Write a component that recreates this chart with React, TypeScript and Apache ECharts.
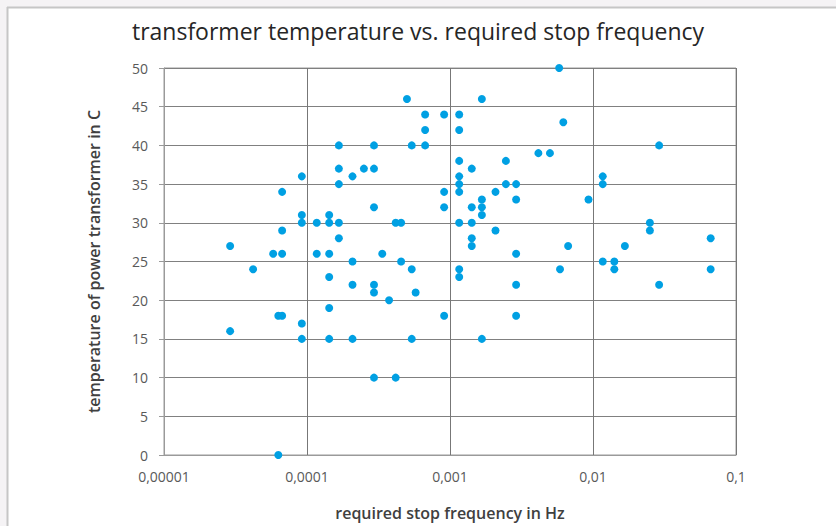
import React, { useEffect, useRef } from "react";
import * as echarts from "echarts";

const titleText = "transformer temperature vs. required stop frequency";
const xAxisName = "required stop frequency in Hz";
const yAxisName = "temperature of power transformer in C";

// stop frequency in Hz (x) and transformer temperature in C (y)
const frequency = [
  2.9e-5, 2.9e-5,
  4.2e-5,
  5.8e-5,
  6.3e-5, 6.3e-5,
  6.7e-5, 6.7e-5, 6.7e-5, 6.7e-5,
  9.2e-5, 9.2e-5, 9.2e-5, 9.2e-5, 9.2e-5,
  1.17e-4, 1.17e-4,
  1.43e-4, 1.43e-4, 1.43e-4, 1.43e-4, 1.43e-4, 1.43e-4,
  1.67e-4, 1.67e-4, 1.67e-4, 1.67e-4, 1.67e-4,
  2.08e-4, 2.08e-4, 2.08e-4, 2.08e-4,
  2.5e-4,
  2.94e-4, 2.94e-4, 2.94e-4, 2.94e-4, 2.94e-4, 2.94e-4,
  3.36e-4,
  3.75e-4,
  4.17e-4, 4.17e-4,
  4.55e-4, 4.55e-4,
  5.0e-4,
  5.4e-4, 5.4e-4, 5.4e-4,
  5.75e-4,
  6.7e-4, 6.7e-4, 6.7e-4,
  9.1e-4, 9.1e-4, 9.1e-4, 9.1e-4,
  1.16e-3, 1.16e-3, 1.16e-3, 1.16e-3, 1.16e-3, 1.16e-3, 1.16e-3, 1.16e-3, 1.16e-3,
  1.42e-3, 1.42e-3, 1.42e-3, 1.42e-3, 1.42e-3,
  1.67e-3, 1.67e-3, 1.67e-3, 1.67e-3, 1.67e-3,
  2.08e-3, 2.08e-3,
  2.46e-3, 2.46e-3,
  2.9e-3, 2.9e-3, 2.9e-3, 2.9e-3, 2.9e-3,
  4.15e-3,
  5.0e-3,
  5.8e-3,
  5.88e-3,
  6.2e-3,
  6.7e-3,
  9.3e-3,
  1.17e-2, 1.17e-2, 1.17e-2,
  1.41e-2, 1.41e-2,
  1.67e-2,
  2.5e-2, 2.5e-2,
  2.9e-2, 2.9e-2,
  6.65e-2, 6.65e-2,
];

const temperature = [
  27, 16,
  24,
  26,
  18, 0,
  34, 29, 26, 18,
  36, 31, 30, 17, 15,
  30, 26,
  31, 30, 26, 23, 19, 15,
  40, 37, 35, 30, 28,
  36, 25, 22, 15,
  37,
  40, 37, 32, 22, 21, 10,
  26,
  20,
  30, 10,
  30, 25,
  46,
  40, 24, 15,
  21,
  44, 42, 40,
  44, 34, 32, 18,
  44, 42, 38, 36, 35, 34, 30, 24, 23,
  37, 32, 30, 28, 27,
  46, 33, 32, 31, 15,
  34, 29,
  38, 35,
  35, 33, 26, 22, 18,
  39,
  39,
  50,
  24,
  43,
  27,
  33,
  36, 35, 25,
  25, 24,
  27,
  30, 29,
  40, 22,
  28, 24,
];

const yTicks = { min: 0, max: 50, interval: 5 };
const xRange = { min: 0.00001, max: 0.1 };

function formatFreq(v: number): string {
  const e = Math.round(Math.log10(v));
  const digits = Math.max(0, -e);
  return v.toFixed(digits).replace(".", ",");
}

export default function App() {
  const ref = useRef<HTMLDivElement>(null);
  useEffect(() => {
    if (!ref.current) return;
    const chart = echarts.init(ref.current, undefined, { renderer: "svg" });
    const points = frequency.map((f, i) => [f, temperature[i]]);
    const font = "'Open Sans', 'Noto Sans', sans-serif";
    chart.setOption({
      animation: false,
      backgroundColor: "#ffffff",
      textStyle: { fontFamily: font },
      title: {
        text: titleText,
        left: "center",
        top: 14,
        textStyle: {
          fontFamily: font,
          fontSize: 23,
          fontWeight: "normal",
          color: "#262626",
        },
      },
      graphic: [
        { type: "rect", shape: { x: 0, y: 0, width: 836, height: 7 }, style: { fill: "#f5f3f5" }, silent: true },
        { type: "rect", shape: { x: 0, y: 0, width: 7, height: 526 }, style: { fill: "#f5f3f5" }, silent: true },
        { type: "line", shape: { x1: 7, y1: 7.5, x2: 836, y2: 7.5 }, style: { stroke: "#c6c6c6", lineWidth: 2 }, silent: true },
        { type: "line", shape: { x1: 7.5, y1: 7, x2: 7.5, y2: 526 }, style: { stroke: "#c6c6c6", lineWidth: 2 }, silent: true },
      ],
      grid: {
        left: 164,
        right: 100,
        top: 68,
        bottom: 71,
        show: true,
        borderColor: "#9a9a9a",
        borderWidth: 1,
      },
      xAxis: {
        type: "log",
        logBase: 10,
        min: xRange.min,
        max: xRange.max,
        name: xAxisName,
        nameLocation: "middle",
        nameGap: 50,
        nameTextStyle: { fontFamily: font, fontSize: 16, fontWeight: 600, color: "#404040" },
        axisLine: { show: true, lineStyle: { color: "#9a9a9a", width: 1 } },
        axisTick: { show: false },
        axisLabel: {
          formatter: (v: number) => formatFreq(v),
          fontFamily: font,
          fontSize: 14,
          color: "#595959",
          margin: 14,
        },
        splitLine: { show: true, lineStyle: { color: "#777777", width: 1 } },
        minorTick: { show: false },
      },
      yAxis: {
        type: "value",
        min: yTicks.min,
        max: yTicks.max,
        interval: yTicks.interval,
        name: yAxisName,
        nameLocation: "middle",
        nameGap: 62,
        nameRotate: 90,
        nameTextStyle: { fontFamily: font, fontSize: 16, fontWeight: 600, color: "#404040" },
        axisLine: { show: true, lineStyle: { color: "#9a9a9a", width: 1 } },
        axisTick: { show: true, inside: false, length: 5, lineStyle: { color: "#9a9a9a" } },
        axisLabel: { fontFamily: font, fontSize: 14, color: "#595959", margin: 16 },
        splitLine: { show: true, lineStyle: { color: "#808080", width: 1 } },
      },
      series: [
        {
          type: "scatter",
          data: points,
          symbol: "circle",
          symbolSize: 8,
          itemStyle: { color: "#00a0e3", opacity: 1 },
        },
      ],
    });
    return () => chart.dispose();
  }, []);
  return (
    <div
      ref={ref}
      style={{ position: "fixed", left: 0, top: 0, width: 836, height: 526 }}
    />
  );
}
